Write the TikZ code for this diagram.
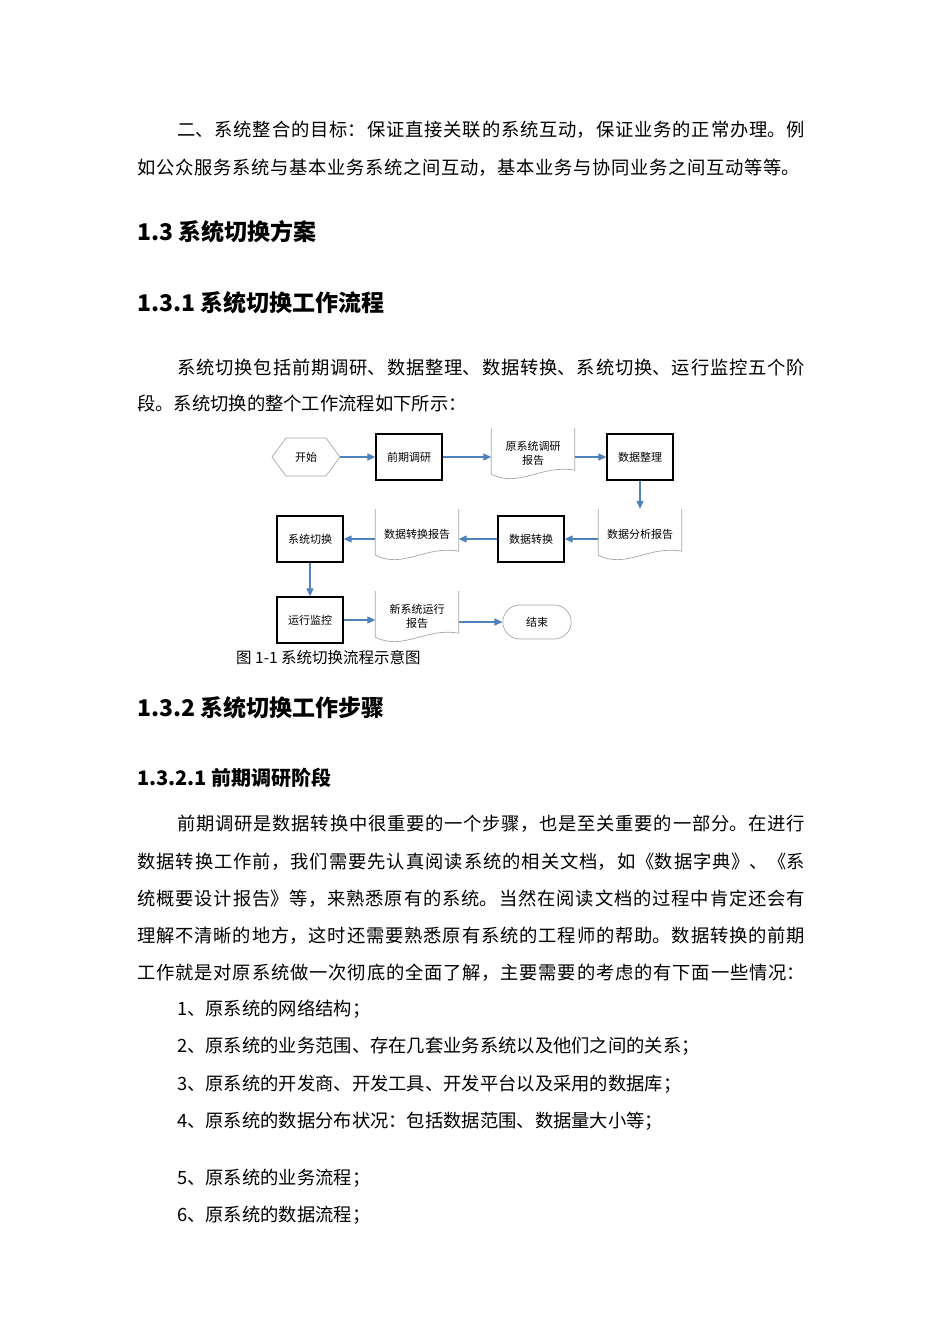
\documentclass[tikz,border=0pt]{standalone}
\usepackage{fontspec}
\setmainfont{Noto Sans CJK SC}
\usetikzlibrary{shapes.geometric,shapes.misc,arrows.meta,calc}
\XeTeXlinebreaklocale "zh"
\XeTeXlinebreakskip=0pt plus 2pt
\definecolor{arr}{RGB}{79,129,189}
\newcommand\jl[2]{\parbox{#1pt}{\parfillskip=0pt\relax #2\par}}
\tikzset{
 body/.style={anchor=base west,inner sep=0,font=\fontsize{18.3}{20}\selectfont},
 hd/.style={anchor=base west,inner sep=0,font=\fontsize{23}{26}\selectfont\bfseries},
 hds/.style={anchor=base west,inner sep=0,font=\fontsize{20}{24}\selectfont\bfseries},
 boxn/.style={draw=black,line width=1.3pt,minimum width=66pt,minimum height=46pt,font=\fontsize{11}{14}\selectfont,inner sep=1pt},
 docn/.style={minimum width=83pt,minimum height=50pt,font=\fontsize{11}{14}\selectfont,align=center,inner sep=1pt},
 docl/.style={draw=gray!70,line width=0.7pt},
 ar/.style={draw=arr,line width=1.2pt,-{Triangle[length=8pt,width=7pt]}}
}
\newcommand\docshape[1]{\draw[docl] (#1.north west) -- ($(#1.south west)+(0,-4)$) .. controls ($(#1.south west)+(28,10)$) and ($(#1.south west)+(50,-14)$) .. ($(#1.south east)+(0,-8)$) -- (#1.north east);}
\begin{document}
\begin{tikzpicture}[x=1pt,y=-1pt]
\useasboundingbox[fill=white] (0,0) rectangle (950,1344);
\node[body] (p1a) at (177,134) {\jl{628}{二、系统整合的目标：保证直接关联的系统互动，保证业务的正常办理。例}};
\node[body] (p1b) at (137,172) {\jl{663}{如公众服务系统与基本业务系统之间互动，基本业务与协同业务之间互动等等。}};
\node[hd] (h1) at (137,240) {1.3 系统切换方案};
\node[hd] (h2) at (137,311) {1.3.1 系统切换工作流程};
\node[body] (p2a) at (177,372) {\jl{628}{系统切换包括前期调研、数据整理、数据转换、系统切换、运行监控五个阶}};
\node[body] (p2b) at (137,410) {段。系统切换的整个工作流程如下所示：};
% flowchart
\draw[draw=gray!70,line width=0.7pt] (272,457) -- (286,438) -- (326,438) -- (340,457) -- (326,476) -- (286,476) -- cycle;
\node[font=\fontsize{11}{14}\selectfont] (start) at (306,457) {开始};
\node[boxn] (b1) at (409,457) {前期调研};
\node[docn] (r1) at (533,453) {原系统调研\\报告};
\node[boxn] (b2) at (640,457) {数据整理};
\node[docn] (r2) at (640,534) {数据分析报告};
\node[boxn] (b3) at (531,539) {数据转换};
\node[docn] (r3) at (417,534) {数据转换报告};
\node[boxn] (b4) at (310,539) {系统切换};
\node[boxn] (b5) at (310,620) {运行监控};
\node[docn] (r4) at (417,616) {新系统运行\\报告};
\node[draw=gray!70,line width=0.7pt,rounded rectangle,minimum width=75pt,minimum height=34pt,font=\fontsize{11}{14}\selectfont] (end) at (537,622) {结束};
\docshape{r1}\docshape{r2}\docshape{r3}\docshape{r4}
\coordinate (sE) at (340,457);
\draw[ar] (sE) -- (b1.west);
\draw[ar] (b1.east) -- (r1.west |- b1.east);
\draw[ar] (r1.east |- b2.west) -- (b2.west);
\draw[ar] (b2.south) -- (r2.north);
\draw[ar] (r2.west |- b3.east) -- (b3.east);
\draw[ar] (b3.west) -- (r3.east |- b3.west);
\draw[ar] (r3.west |- b4.east) -- (b4.east);
\draw[ar] (b4.south) -- (b5.north);
\draw[ar] (b5.east) -- (r4.west |- b5.east);
\draw[ar] (r4.east |- end.west) -- (end.west);
\node[anchor=base west,inner sep=0,font=\fontsize{15.5}{18}\selectfont] (cap) at (236,663) {图 1-1 系统切换流程示意图};
\node[hd] (h3) at (137,716) {1.3.2 系统切换工作步骤};
\node[hds] (h4) at (137,785) {1.3.2.1 前期调研阶段};
\node[body] (q1) at (177,828) {\jl{628}{前期调研是数据转换中很重要的一个步骤，也是至关重要的一部分。在进行}};
\node[body] (q2) at (137,866) {\jl{668}{数据转换工作前，我们需要先认真阅读系统的相关文档，如《数据字典》、《系}};
\node[body] (q3) at (137,903) {\jl{668}{统概要设计报告》等，来熟悉原有的系统。当然在阅读文档的过程中肯定还会有}};
\node[body] (q4) at (137,940) {\jl{668}{理解不清晰的地方，这时还需要熟悉原有系统的工程师的帮助。数据转换的前期}};
\node[body] (q5) at (137,977) {\jl{668}{工作就是对原系统做一次彻底的全面了解，主要需要的考虑的有下面一些情况：}};
\node[body] (l1) at (177,1015) {1、原系统的网络结构；};
\node[body] (l2) at (177,1052) {2、原系统的业务范围、存在几套业务系统以及他们之间的关系；};
\node[body] (l3) at (177,1090) {3、原系统的开发商、开发工具、开发平台以及采用的数据库；};
\node[body] (l4) at (177,1127) {4、原系统的数据分布状况：包括数据范围、数据量大小等；};
\node[body] (l5) at (177,1184) {5、原系统的业务流程；};
\node[body] (l6) at (177,1221) {6、原系统的数据流程；};
\end{tikzpicture}
\end{document}
